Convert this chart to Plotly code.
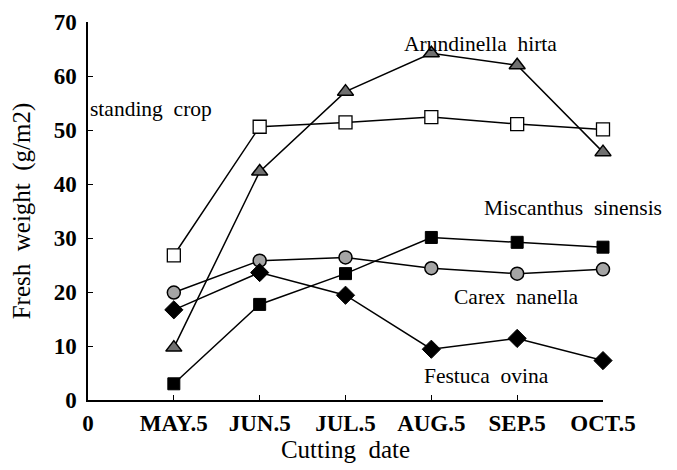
import plotly.graph_objects as go

x_pos = [1, 2, 3, 4, 5, 6]
tick_vals = [0, 1, 2, 3, 4, 5, 6]
tick_text = ["0", "MAY.5", "JUN.5", "JUL.5", "AUG.5", "SEP.5", "OCT.5"]

standing_crop = [26.8, 50.6, 51.4, 52.4, 51.1, 50.1]
arundinella = [9.7, 42.3, 57.1, 64.2, 62.0, 45.9]
carex = [19.9, 25.8, 26.4, 24.4, 23.4, 24.2]
festuca = [16.7, 23.6, 19.4, 9.4, 11.4, 7.3]
miscanthus = [3.0, 17.7, 23.4, 30.1, 29.2, 28.3]

FONT = "Liberation Serif"
line = dict(color="black", width=1.5)

fig = go.Figure()
fig.add_trace(go.Scatter(x=x_pos, y=standing_crop, mode="lines+markers", line=line,
                         marker=dict(symbol="square", size=13, color="white",
                                     line=dict(color="black", width=1.3))))
fig.add_trace(go.Scatter(x=x_pos, y=arundinella, mode="lines+markers", line=line,
                         marker=dict(symbol="triangle-up", size=14, color="#707070",
                                     line=dict(color="black", width=1.5))))
fig.add_trace(go.Scatter(x=x_pos, y=carex, mode="lines+markers", line=line,
                         marker=dict(symbol="circle", size=13, color="#a5a5a5",
                                     line=dict(color="black", width=1.5))))
fig.add_trace(go.Scatter(x=x_pos, y=festuca, mode="lines+markers", line=line,
                         marker=dict(symbol="diamond", size=14, color="black",
                                     line=dict(color="black", width=1))))
fig.add_trace(go.Scatter(x=x_pos, y=miscanthus, mode="lines+markers", line=line,
                         marker=dict(symbol="square", size=12, color="black",
                                     line=dict(color="black", width=1))))
for tr in fig.data:
    tr.cliponaxis = False

ann_font = dict(family=FONT, size=21.5, color="black")
annotations = [
    dict(x=3.66, y=66.0, text="Arundinella\u00a0\u00a0hirta"),
    dict(x=0.0, y=53.9, text="standing\u00a0\u00a0crop"),
    dict(x=4.59, y=35.5, text="Miscanthus\u00a0\u00a0sinensis"),
    dict(x=4.24, y=19.1, text="Carex\u00a0\u00a0nanella"),
    dict(x=3.89, y=4.4, text="Festuca\u00a0\u00a0ovina"),
]
for a in annotations:
    fig.add_annotation(x=a["x"], y=a["y"], text=a["text"], showarrow=False,
                       font=ann_font, xanchor="left", yanchor="middle")

# page body has an 8px margin, so the figure is offset by 8px
fig.update_layout(
    width=669, height=462,
    margin=dict(l=80, r=74, t=14, b=70),
    paper_bgcolor="white", plot_bgcolor="white",
    showlegend=False,
    font=dict(family=FONT, size=20, color="black"),
    xaxis=dict(range=[0, 6], tickmode="array", tickvals=tick_vals, ticktext=tick_text,
               showline=True, linecolor="black", linewidth=1.5, ticks="inside",
               ticklen=5, tickcolor="black", showgrid=False, zeroline=False,
               automargin=False, ticklabelstandoff=2, ticklabeloverflow="allow",
               tickfont=dict(family=FONT, size=23, weight="bold"),
               title=dict(text="Cutting\u00a0\u00a0date", font=dict(family=FONT, size=25), standoff=0)),
    yaxis=dict(range=[0, 70], tickvals=[0, 10, 20, 30, 40, 50, 60, 70],
               showline=True, linecolor="black", linewidth=1.5, ticks="inside",
               ticklen=5, tickcolor="black", showgrid=False, zeroline=False,
               automargin=False, ticklabelstandoff=5, ticklabeloverflow="allow",
               tickfont=dict(family=FONT, size=23, weight="bold"),
               title=dict(text="Fresh\u00a0\u00a0weight\u00a0\u00a0(g/m2)", font=dict(family=FONT, size=25), standoff=19)),
)

fig.write_html("out.html")
